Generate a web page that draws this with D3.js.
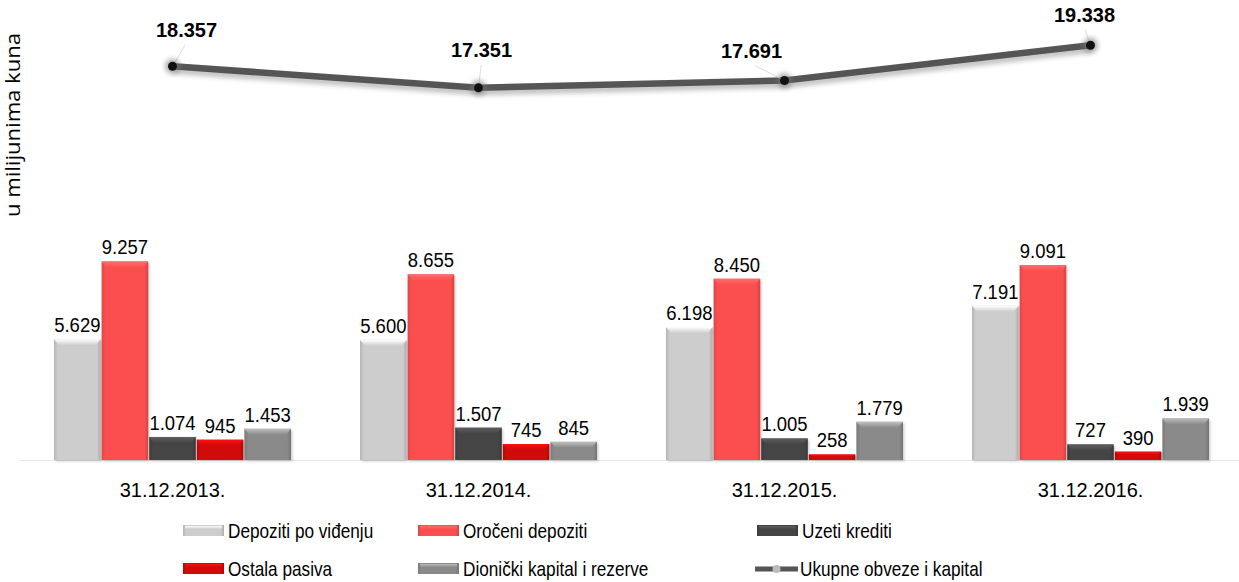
<!doctype html>
<html lang="hr">
<head>
<meta charset="UTF-8">
<title>Struktura obveza i kapitala</title>
<style>
  body { margin: 0; background: #fff; }
  svg { display: block; }
  .val { font-family: "Liberation Sans", Arial, sans-serif; font-size: 21px; fill: #000; }
  .tot { font-family: "Liberation Sans", Arial, sans-serif; font-size: 20px; font-weight: bold; fill: #000; }
  .cat { font-family: "Liberation Sans", Arial, sans-serif; font-size: 20px; fill: #000; }
  .leg { font-family: "Liberation Sans", Arial, sans-serif; font-size: 20px; fill: #000; }
  .ytitle { font-family: "Open Sans", sans-serif; font-size: 20px; fill: #000; }
</style>
</head>
<body>
<svg id="chart" width="1239" height="582"></svg>
<script src="https://cdn.jsdelivr.net/npm/d3@7"></script>
<script>
// podaci (u milijunima kuna)
const dates = ["31.12.2013.", "31.12.2014.", "31.12.2015.", "31.12.2016."];
const seriesNames = ["Depoziti po viđenju", "Oročeni depoziti", "Uzeti krediti", "Ostala pasiva", "Dionički kapital i rezerve"];
const depozitiPoVidjenju = [5629, 5600, 6198, 7191];
const oroceniDepoziti = [9257, 8655, 8450, 9091];
const uzetiKrediti = [1074, 1507, 1005, 727];
const ostalaPasiva = [945, 745, 258, 390];
const dionickiKapital = [1453, 845, 1779, 1939];
const totalName = "Ukupne obveze i kapital";
const ukupno = [18357, 17351, 17691, 19338];

const seriesValues = [depozitiPoVidjenju, oroceniDepoziti, uzetiKrediti, ostalaPasiva, dionickiKapital];
const colors = ["#cdcdcd", "#fb4f4f", "#454545", "#d10a0a", "#8a8a8a"];
// pomaci oznaka ukupnog iznosa (dx, dy)
const totalLabelNudge = [[14, -29], [3, -31], [-33, -23], [-6, -23]];

const fmt = v => d3.format(",")(v).replace(/,/g, ".");
const svg = d3.select("#chart");
const defs = svg.append("defs");

// gradijenti za "bevel" izgled stupaca
colors.forEach((c, i) => {
  const g = defs.append("linearGradient").attr("id", "g" + i).attr("x1", 0).attr("x2", 1).attr("y1", 0).attr("y2", 0);
  const base = d3.color(c);
  g.append("stop").attr("offset", "0%").attr("stop-color", base.darker(0.35));
  g.append("stop").attr("offset", "8%").attr("stop-color", base);
  g.append("stop").attr("offset", "92%").attr("stop-color", base);
  g.append("stop").attr("offset", "100%").attr("stop-color", base.darker(0.5));
  const t = defs.append("linearGradient").attr("id", "t" + i).attr("x1", 0).attr("x2", 0).attr("y1", 0).attr("y2", 1);
  t.append("stop").attr("offset", "0%").attr("stop-color", base.brighter(0.9));
  t.append("stop").attr("offset", "100%").attr("stop-color", base);
});
defs.append("filter").attr("id", "blur").attr("x", "-50%").attr("y", "-50%").attr("width", "200%").attr("height", "200%")
  .append("feGaussianBlur").attr("stdDeviation", 2.5);
defs.append("filter").attr("id", "blurS").append("feGaussianBlur").attr("stdDeviation", 1.2);

const x0 = d3.scaleBand().domain(dates).range([19.5, 1243.5]);
const x1 = d3.scaleBand().domain(d3.range(seriesNames.length)).range([34.5, 271.5]).paddingInner(0.02);
const y = d3.scaleLinear().domain([0, 20000]).range([460, 31]);

// osnovna linija
svg.append("line").attr("x1", 20).attr("x2", 1239).attr("y1", y(0) + 0.5).attr("y2", y(0) + 0.5)
  .attr("stroke", "#e6e6e6");

const groups = svg.append("g").selectAll("g").data(dates).join("g")
  .attr("transform", d => `translate(${x0(d)},0)`);

groups.each(function(date, di) {
  const g = d3.select(this);
  seriesValues.forEach((vals, si) => {
    const v = vals[di];
    const bx = x1(si), bw = x1.bandwidth(), by = y(v), bh = y(0) - y(v);
    g.append("rect").attr("x", bx + 1.5).attr("y", by + 1.5).attr("width", bw).attr("height", bh)
      .attr("fill", "#000").attr("opacity", 0.18).attr("filter", "url(#blurS)");
    g.append("rect").attr("x", bx).attr("y", by).attr("width", bw).attr("height", bh)
      .attr("fill", `url(#g${si})`);
    const th = Math.min(6, bh * 0.45);
    g.append("path")
      .attr("d", `M${bx},${by}H${bx + bw}L${bx + bw - 5},${by + th}H${bx + 5}Z`)
      .attr("fill", `url(#t${si})`);
    g.append("text").attr("class", "val").attr("text-anchor", "middle")
      .attr("transform", `translate(${bx + bw / 2},${by - 7}) scale(0.88,1)`).text(fmt(v));
  });
});

// kategorije
svg.append("g").selectAll("text").data(dates).join("text").attr("class", "cat")
  .attr("text-anchor", "middle").attr("x", d => x0(d) + x0.bandwidth() / 2).attr("y", 497).text(d => d);

// linija ukupno
const pts = dates.map((d, i) => [x0(d) + x0.bandwidth() / 2, y(ukupno[i])]);
const line = d3.line();
svg.append("path").attr("d", line(pts.map(p => [p[0] + 1, p[1] + 4]))).attr("fill", "none")
  .attr("stroke", "#000").attr("stroke-opacity", 0.25).attr("stroke-width", 7).attr("filter", "url(#blur)");
svg.append("path").attr("d", line(pts)).attr("fill", "none")
  .attr("stroke", "#555").attr("stroke-width", 6.5);

pts.forEach((p, i) => {
  const [dx, dy] = totalLabelNudge[i];
  svg.append("line").attr("x1", p[0]).attr("y1", p[1]).attr("x2", p[0] + dx * 0.9).attr("y2", p[1] + dy + 8)
    .attr("stroke", "#ddd").attr("stroke-width", 1);
  svg.append("circle").attr("cx", p[0]).attr("cy", p[1]).attr("r", 7.5).attr("fill", "#777").attr("opacity", 0.6)
    .attr("filter", "url(#blur)");
  svg.append("circle").attr("cx", p[0]).attr("cy", p[1]).attr("r", 4.5).attr("fill", "#111");
  svg.append("text").attr("class", "tot").attr("text-anchor", "middle")
    .attr("x", p[0] + dx).attr("y", p[1] + dy).text(fmt(ukupno[i]));
});

// naslov osi y
svg.append("text").attr("class", "ytitle").attr("text-anchor", "middle")
  .attr("textLength", 184).attr("lengthAdjust", "spacingAndGlyphs")
  .attr("transform", "translate(20,125) rotate(-90)").text("u milijunima kuna");

// legenda
const legendItems = [
  { name: seriesNames[0], i: 0, x: 183, y: 531 },
  { name: seriesNames[1], i: 1, x: 418, y: 531 },
  { name: seriesNames[2], i: 2, x: 757, y: 531 },
  { name: seriesNames[3], i: 3, x: 183, y: 569 },
  { name: seriesNames[4], i: 4, x: 418, y: 569 },
  { name: totalName, i: -1, x: 755, y: 569 }
];
const leg = svg.append("g").selectAll("g").data(legendItems).join("g")
  .attr("transform", d => `translate(${d.x},${d.y})`);
leg.each(function(d) {
  const g = d3.select(this);
  if (d.i >= 0) {
    g.append("rect").attr("x", 0).attr("y", -6).attr("width", 41).attr("height", 11).attr("fill", `url(#g${d.i})`);
    g.append("rect").attr("x", 2).attr("y", -5).attr("width", 37).attr("height", 3).attr("fill", `url(#t${d.i})`);
  } else {
    g.append("line").attr("x1", 0).attr("x2", 43).attr("y1", 0).attr("y2", 0).attr("stroke", "#555").attr("stroke-width", 5);
    g.append("circle").attr("cx", 21.5).attr("cy", 0).attr("r", 4).attr("fill", "#bbb");
  }
  g.append("text").attr("class", "leg").attr("transform", "translate(45,7) scale(0.86,1)").text(d.name);
});
</script>
</body>
</html>
